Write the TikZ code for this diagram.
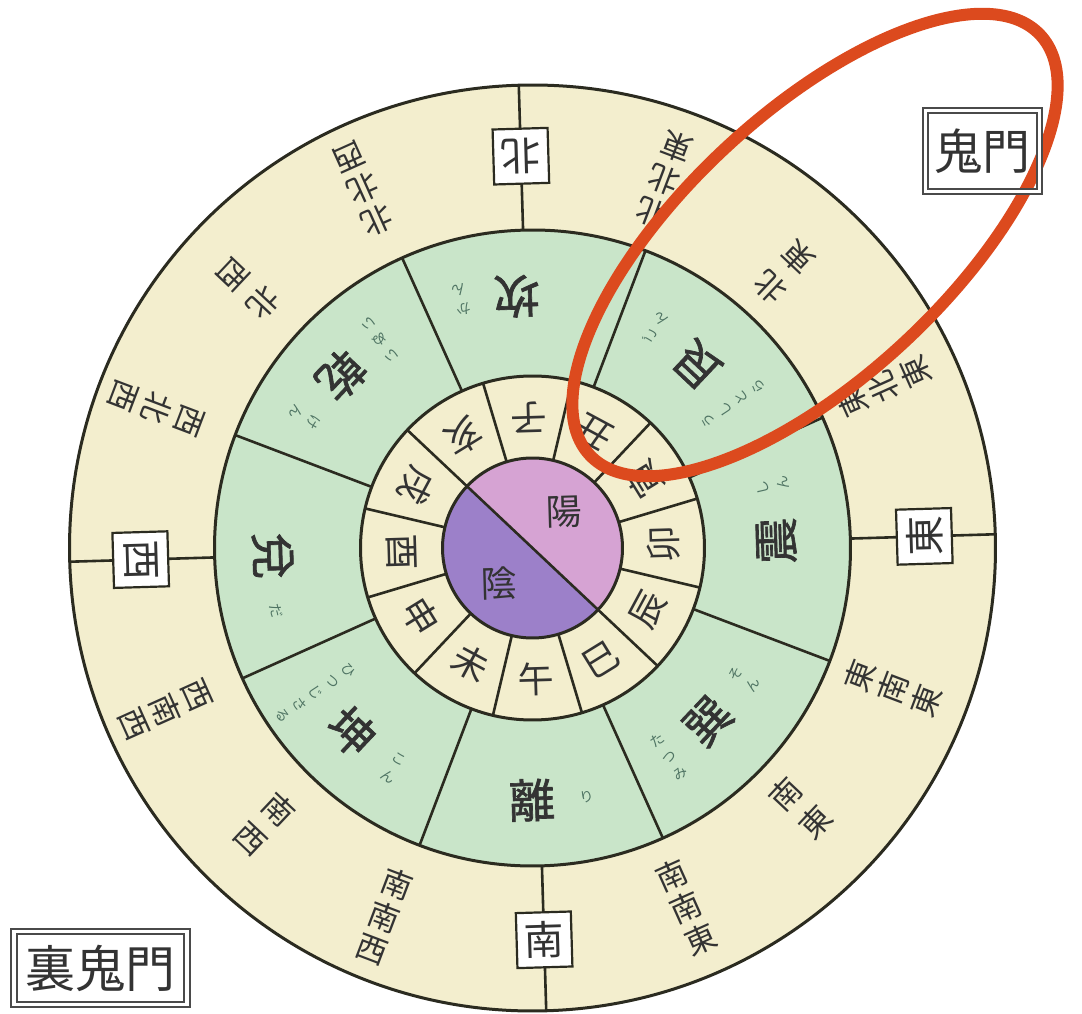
\documentclass[tikz,border=0pt]{standalone}
\usepackage{fontspec}
\newfontfamily\cjk{Noto Sans CJK JP}
\newfontfamily\cjkbold[FakeBold=1.4]{Noto Sans CJK JP}
\usetikzlibrary{calc}
\definecolor{cream}{HTML}{F3EECE}
\definecolor{trigreen}{HTML}{C9E5C9}
\definecolor{yang}{HTML}{D6A3D3}
\definecolor{yin}{HTML}{9C80C9}
\definecolor{ink}{HTML}{2B2B20}
\definecolor{txt}{HTML}{333333}
\definecolor{reading}{HTML}{4F7463}
\definecolor{kimonred}{HTML}{DC4A1E}
\definecolor{boxgray}{HTML}{4A4A4A}
\tikzset{
  ring/.style={draw=ink, line width=3pt},
  divider/.style={draw=ink, line width=2.6pt},
  cardbox/.style={draw=ink, fill=white, line width=2.2pt, minimum size=55pt, inner sep=0pt,
    text=txt, font=\cjk\fontsize{40}{40}\selectfont},
  branch/.style={inner sep=0pt, text=txt, font=\cjk\fontsize{36}{36}\selectfont},
  trig/.style={inner sep=0pt, text=txt, font=\cjkbold\fontsize{46}{46}\selectfont},
  yomi/.style={inner sep=0pt, text=reading, align=center, font=\cjk\fontsize{14}{20}\selectfont},
  outerlabel/.style={inner sep=0pt, text=txt, align=center, font=\cjk\fontsize{31}{35}\selectfont},
  outerpair/.style={inner sep=0pt, text=txt, align=center, font=\cjk\fontsize{31}{41}\selectfont},
  yinyang/.style={inner sep=0pt, text=txt, font=\cjk\fontsize{36}{36}\selectfont},
  gatebox/.style={draw=boxgray, line width=1.8pt, double=white, double distance=3.5pt,
    inner sep=0pt, text=txt},
  kimonring/.style={draw=kimonred, line width=12pt}
}
\begin{document}
\begin{tikzpicture}[x=1pt,y=1pt]
\useasboundingbox (0,0) rectangle (1082,1013);
\begin{scope}[shift={(532.5,465)}, rotate=1.7, transform shape]
  % rings
  \fill[cream] (0,0) circle (463pt);
  \fill[trigreen] (0,0) circle (318pt);
  \fill[cream] (0,0) circle (172pt);
  \fill[yang] (-45:90pt) arc[start angle=-45, end angle=135, radius=90pt] -- cycle;
  \fill[yin] (135:90pt) arc[start angle=135, end angle=315, radius=90pt] -- cycle;
  % dividers
  \foreach \a in {22.5,67.5,...,337.5} \draw[divider] (\a:172pt) -- (\a:318pt);
  \foreach \a in {15,45,...,345} \draw[divider] (\a:90pt) -- (\a:172pt);
  \draw[divider] (135:90pt) -- (-45:90pt);
  \foreach \a in {0,90,180,270} \draw[divider] (\a:318pt) -- (\a:463pt);
  \foreach \r in {463pt,318pt,172pt,90pt} \draw[ring] (0,0) circle (\r);
  % cardinal boxes
  \foreach \a/\t/\n in {90/北/north,0/東/east,-90/南/south,180/西/west}
    \node[cardbox, rotate=\a+90] (box\n) at (\a:392pt) {\t};
  % twelve branches
  \foreach \a/\t [count=\i] in {90/子,60/丑,30/寅,0/卯,-30/辰,-60/巳,-90/午,-120/未,-150/申,180/酉,150/戌,120/亥}
    \node[branch, rotate=\a+90] (br\i) at (\a:131pt) {\t};
  % yin yang
  \node[yinyang] (yangtxt) at (47:48pt) {陽};
  \node[yinyang] (yintxt) at (225:48pt) {陰};
  \begin{scope}[shift={(-8pt,0pt)}]
    % trigrams
    \foreach \a/\t [count=\i] in {90/坎,45/艮,0/震,-45/巽,-90/離,-135/坤,180/兌,135/乾}
      \node[trig, rotate=\a+90] (tri\i) at (\a:252pt) {\t};
    % on readings
    \foreach \a/\t [count=\i] in {90/か\\ん,45/ご\\ん,0/し\\ん,-45/そ\\ん,-90/り,-135/こ\\ん,180/だ,135/け\\ん}
      \node[yomi, rotate=\a+102.5] (on\i) at (\a+12.5:256pt) {\t};
    % kun readings
    \foreach \a/\t [count=\i] in {45/う\\し\\と\\ら,-45/た\\つ\\み,-135/ひ\\つ\\じ\\さ\\る,135/い\\ぬ\\い}
      \node[yomi, rotate=\a+78] (kun\i) at (\a-12:254pt) {\t};
    % sixteen directions: three-character labels
    \foreach \a/\t [count=\i] in {
      67.5/北\\北\\東, 22.5/東\\北\\東, -22.5/東\\南\\東, -67.5/南\\南\\東,
      -112.5/南\\南\\西, -157.5/西\\南\\西, 157.5/西\\北\\西, 112.5/北\\北\\西}
      \node[outerlabel, rotate=\a+90] (dir\i) at (\a:394pt) {\t};
    % two-character labels
    \foreach \a/\t [count=\i] in {45/北\\東, -45/南\\東, -135/南\\西, 135/北\\西}
      \node[outerpair, rotate=\a+90] (diag\i) at (\a:379pt) {\t};
  \end{scope}
\end{scope}
% kimon ellipse
\draw[kimonring, rotate around={43:(815,768)}] (815,768) ellipse (308pt and 132pt);
% gate labels
\node[gatebox, minimum width=114pt, minimum height=81pt,
  font=\cjk\fontsize{48}{48}\selectfont] (kimon) at (982.5,862) {鬼門};
\node[gatebox, minimum width=173pt, minimum height=73pt,
  font=\cjk\fontsize{50}{50}\selectfont] (urakimon) at (100.5,45) {裏鬼門};
\end{tikzpicture}
\end{document}
